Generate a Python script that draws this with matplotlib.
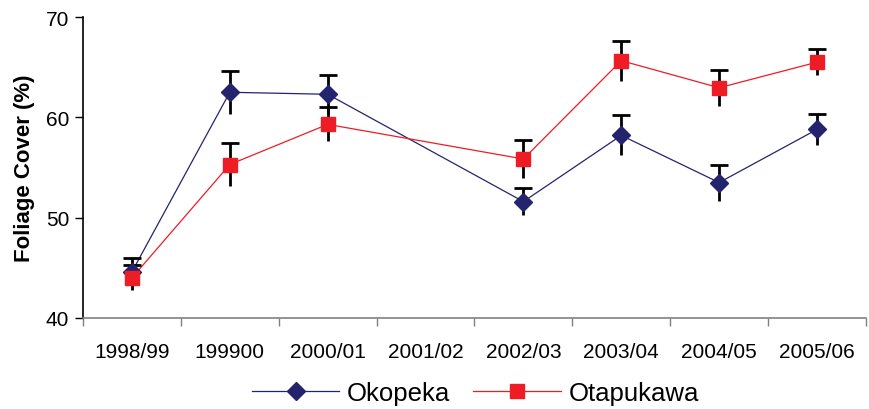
import numpy as np
import matplotlib.pyplot as plt

years = ['1998/99', '199900', '2000/01', '2001/02', '2002/03', '2003/04', '2004/05', '2005/06']

# no survey in 2001/02
okopeka = [44.6, 62.5, 62.3, np.nan, 51.6, 58.2, 53.5, 58.8]
okopeka_err = [1.4, 2.15, 1.95, np.nan, 1.35, 2.0, 1.8, 1.55]
otapukawa = [44.0, 55.3, 59.3, np.nan, 55.85, 65.65, 62.95, 65.5]
otapukawa_err = [1.25, 2.1, 1.7, np.nan, 1.85, 2.0, 1.8, 1.3]

plt.rcParams['font.family'] = ['Liberation Sans', 'DejaVu Sans']

fig = plt.figure(figsize=(8.69, 4.10), dpi=100)
ax = fig.add_axes([0.0955, 0.222, 0.901, 0.734])

x = np.arange(len(years))

def draw(vals, errs, color, marker, ms, label):
    vals = np.array(vals)
    errs = np.array(errs)
    ok = ~np.isnan(vals)
    xs, ys, es = x[ok], vals[ok], errs[ok]
    ax.plot(xs, ys, color=color, lw=0.9, zorder=2)
    # error bars: plain lower half, capped upper half
    ax.vlines(xs, ys - es, ys + es, color='black', lw=2, zorder=3)
    ax.plot(xs, ys + es, ls='none', marker='_', ms=13, mew=2,
            color='black', zorder=3)
    ax.plot(xs, ys, ls='none', marker=marker, ms=ms, color=color,
            mec=color, zorder=4)
    return ax.plot([], [], color=color, lw=0.9, marker=marker, ms=ms,
                   label=label)[0]

h1 = draw(okopeka, okopeka_err, '#24246E', 'D', 9, 'Okopeka')
h2 = draw(otapukawa, otapukawa_err, '#EE1C24', 's', 10, 'Otapukawa')

ax.set_xlim(-0.5, len(years) - 0.5)
ax.set_ylim(40, 70)
ax.set_yticks([40, 50, 60, 70])

ax.set_xticks(x)
ax.set_xticklabels(years, fontsize=15)
ax.set_xticks(np.arange(-0.5, len(years)), minor=True)
ax.tick_params(axis='x', which='major', length=0, pad=17)
ax.tick_params(axis='x', which='minor', length=6, width=1, color='#808080',
               direction='out')
ax.tick_params(axis='y', labelsize=15, length=6, width=1, direction='out',
               pad=4)

for s in ['top', 'right']:
    ax.spines[s].set_visible(False)
ax.spines['bottom'].set_color('#808080')
ax.spines['bottom'].set_linewidth(1.2)
ax.spines['left'].set_color('black')
ax.spines['left'].set_linewidth(1.2)

ax.set_ylabel('Foliage Cover (%)', fontsize=16, fontweight='bold', labelpad=8)

fig.legend(handles=[h1, h2], loc='center', bbox_to_anchor=(0.547, 0.04),
           ncol=2, frameon=False, fontsize=18.5, handlelength=3.4,
           handletextpad=0.3, columnspacing=0.9)

fig.savefig('out.png', dpi=100)
